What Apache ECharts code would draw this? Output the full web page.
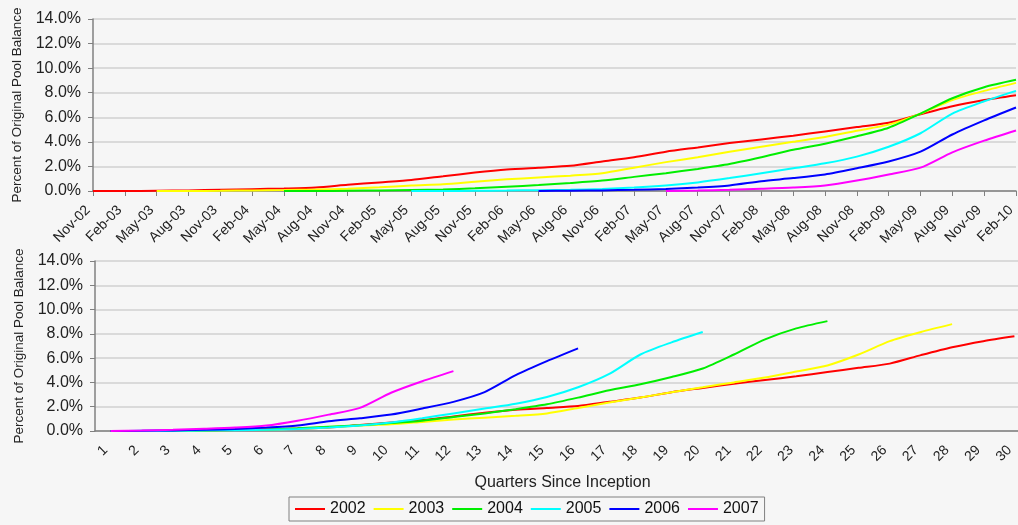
<!DOCTYPE html>
<html>
<head>
<meta charset="utf-8">
<script src="https://cdn.jsdelivr.net/npm/echarts@6/dist/echarts.min.js"></script>
<style>
  html, body { margin: 0; padding: 0; background: #f6f6f6; }
  #chart { width: 1018px; height: 525px; }
</style>
</head>
<body>
<div id="chart"></div>
<script>
// Quarter-end reporting dates (top panel)
const quarterDates = ['Nov-02','Feb-03','May-03','Aug-03','Nov-03','Feb-04','May-04','Aug-04','Nov-04','Feb-05',
  'May-05','Aug-05','Nov-05','Feb-06','May-06','Aug-06','Nov-06','Feb-07','May-07','Aug-07',
  'Nov-07','Feb-08','May-08','Aug-08','Nov-08','Feb-09','May-09','Aug-09','Nov-09','Feb-10'];

// Quarters since inception (bottom panel)
const quarterNums = ['1','2','3','4','5','6','7','8','9','10','11','12','13','14','15',
  '16','17','18','19','20','21','22','23','24','25','26','27','28','29','30'];

const vintages = ['2002', '2003', '2004', '2005', '2006', '2007'];
const vintageColors = ['#ff0000', '#ffff00', '#00ee00', '#00ffff', '#0000ff', '#ff00ff'];

// Cumulative loss, percent of original pool balance, by quarter since inception
const loss2002 = [0, 0, 0.02, 0.05, 0.1, 0.15, 0.2, 0.28, 0.5, 0.7, 0.9, 1.2, 1.5, 1.75, 1.9, 2.05, 2.4, 2.75, 3.2, 3.55, 3.9, 4.2, 4.5, 4.85, 5.2, 5.55, 6.25, 6.9, 7.4, 7.8];
const loss2003 = [0, 0, 0.02, 0.05, 0.08, 0.12, 0.18, 0.3, 0.45, 0.55, 0.75, 0.95, 1.1, 1.25, 1.45, 1.9, 2.35, 2.75, 3.2, 3.6, 4.0, 4.4, 4.9, 5.4, 6.3, 7.4, 8.15, 8.8];
const loss2004 = [0, 0, 0.02, 0.05, 0.08, 0.12, 0.22, 0.35, 0.48, 0.65, 0.85, 1.15, 1.45, 1.8, 2.2, 2.75, 3.35, 3.85, 4.45, 5.15, 6.3, 7.55, 8.45, 9.05];
const loss2005 = [0, 0, 0.02, 0.04, 0.07, 0.1, 0.17, 0.28, 0.45, 0.7, 1.05, 1.45, 1.85, 2.25, 2.8, 3.6, 4.7, 6.3, 7.3, 8.15];
const loss2006 = [0, 0.02, 0.05, 0.1, 0.17, 0.28, 0.45, 0.8, 1.05, 1.35, 1.85, 2.4, 3.2, 4.6, 5.75, 6.8];
const loss2007 = [0, 0.04, 0.1, 0.18, 0.28, 0.45, 0.85, 1.35, 1.9, 3.15, 4.1, 4.93];

const lossByVintage = [loss2002, loss2003, loss2004, loss2005, loss2006, loss2007];

const FONT = '"Liberation Sans", Arial, sans-serif';
const AXIS_GRAY = '#808080';
const TEXT = '#222';

function xAxisFor(gridIndex, labels, boundaryGap, extra) {
  return Object.assign({
    type: 'category',
    gridIndex: gridIndex,
    data: labels,
    boundaryGap: boundaryGap,
    axisLine: { lineStyle: { color: AXIS_GRAY, width: 1.5 } },
    axisTick: { length: 5, lineStyle: { color: AXIS_GRAY } },
    axisLabel: {
      interval: 0, rotate: 45, margin: 22, verticalAlign: 'bottom',
      fontSize: 14, color: TEXT, fontFamily: FONT
    },
    splitLine: { show: false }
  }, extra || {});
}

function yAxisFor(gridIndex) {
  return {
    type: 'value',
    gridIndex: gridIndex,
    min: 0, max: 14, interval: 2,
    name: 'Percent of Original Pool Balance',
    nameLocation: 'middle',
    nameGap: 66,
    nameTextStyle: { fontSize: 13.5, color: TEXT, fontFamily: FONT },
    axisLine: { show: true, lineStyle: { color: AXIS_GRAY, width: 1.5 } },
    axisTick: { show: true, length: 5, lineStyle: { color: AXIS_GRAY } },
    axisLabel: {
      margin: 12, fontSize: 16, color: TEXT, fontFamily: FONT,
      formatter: v => v.toFixed(1) + '%'
    },
    splitLine: { lineStyle: { color: '#d0d0d0', width: 1.5 } }
  };
}

const series = [];
vintages.forEach((name, i) => {
  const vals = lossByVintage[i];
  // every vintage is observed through the latest date, so it starts later on the calendar axis
  const offset = quarterDates.length - vals.length;
  const calendar = new Array(offset).fill(null).concat(vals);
  const common = {
    name: name,
    type: 'line',
    showSymbol: false,
    smooth: 0.25,
    lineStyle: { width: 2, color: vintageColors[i] },
    itemStyle: { color: vintageColors[i] }
  };
  series.push(Object.assign({}, common, { xAxisIndex: 0, yAxisIndex: 0, data: calendar }));
  series.push(Object.assign({}, common, { xAxisIndex: 1, yAxisIndex: 1, data: vals }));
});

const chart = echarts.init(document.getElementById('chart'), null, { renderer: 'canvas' });
chart.setOption({
  animation: false,
  backgroundColor: '#f6f6f6',
  textStyle: { fontFamily: FONT },
  grid: [
    { left: 93, top: 19, width: 923, height: 172, outerBoundsMode: 'none' },
    // the quarter axis runs a little past the right edge of the canvas
    { left: 95, top: 261, width: 935, height: 170, outerBoundsMode: 'none' }
  ],
  xAxis: [
    xAxisFor(0, quarterDates, false),
    xAxisFor(1, quarterNums, true, {
      name: 'Quarters Since Inception',
      nameLocation: 'middle',
      nameGap: 44,
      nameTextStyle: { fontSize: 16, color: TEXT, fontFamily: FONT }
    })
  ],
  yAxis: [yAxisFor(0), yAxisFor(1)],
  legend: {
    data: vintages,
    left: 289,
    top: 497,
    icon: 'rect',
    itemWidth: 30,
    itemHeight: 2,
    itemGap: 8,
    padding: [4, 6],
    borderColor: AXIS_GRAY,
    borderWidth: 1,
    textStyle: { fontSize: 16, color: '#111', fontFamily: FONT }
  },
  series: series
});
</script>
</body>
</html>
